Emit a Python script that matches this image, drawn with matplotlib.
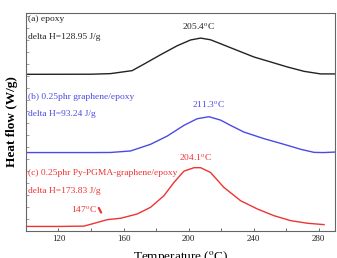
import matplotlib
matplotlib.use("Agg")
import matplotlib.pyplot as plt
from matplotlib.ticker import MultipleLocator, NullFormatter

plt.rcParams["font.family"] = ["Liberation Serif", "DejaVu Serif"]
plt.rcParams["mathtext.fontset"] = "stix"

# curves (temperature in C, heat flow in stacked arbitrary units)
temp_a = [100, 140, 152, 165.3, 172.5, 182.8, 193, 201.2, 207.4, 213.5, 219.7, 230,
          240.2, 250.5, 260.7, 271, 281.2, 290]
flow_a = [157.3, 157.4, 158.0, 161.0, 167.5, 177.0, 186.0, 191.8, 193.7, 192.0, 188.0, 181.3,
          174.7, 169.7, 164.7, 160.3, 157.7, 157.7]

temp_b = [100, 140, 152, 164.3, 176.6, 186.9, 197.1, 205.3, 212.5, 219.7, 225.8, 234,
          246.3, 258.6, 268.9, 277.1, 283, 290]
flow_b = [78.7, 78.7, 78.8, 80.3, 87.0, 95.3, 106.0, 112.7, 114.7, 111.3, 106.0, 99.3,
          92.7, 87.0, 82.0, 78.9, 78.7, 79.2]

temp_c = [100, 121.2, 135.6, 141.7, 150, 158.2, 168.4, 176.6, 184.8, 191, 197.1, 203.3,
          207.4, 213.5, 221.7, 232, 242.3, 252.5, 262.8, 273, 283.3]
flow_c = [4.5, 4.5, 4.8, 7.5, 11.3, 12.7, 17.0, 23.7, 35.3, 48.7, 60.0, 63.5,
          63.5, 58.7, 43.7, 30.3, 22.0, 15.3, 10.3, 7.7, 6.3]

black = "#222222"
blue = "#4a4ae6"
red = "#ee3333"

fig = plt.figure(figsize=(3.37, 2.58), dpi=100)
ax = fig.add_axes([0.077, 0.105, 0.917, 0.845])

ax.plot(temp_a, flow_a, color=black, lw=1.0)
ax.plot(temp_b, flow_b, color=blue, lw=1.0)
ax.plot(temp_c, flow_c, color=red, lw=1.0)

fs = 6.8
ax.text(101, 213, "(a) epoxy", color=black, fontsize=fs, va="center")
ax.text(101, 195, "delta H=128.95 J/g", color=black, fontsize=fs, va="center")
ax.text(206, 205, r"205.4$^{\mathrm{o}}$C", color=black, fontsize=fs, ha="center", va="center")

ax.text(101, 135, "(b) 0.25phr graphene/epoxy", color=blue, fontsize=fs, va="center")
ax.text(101, 117, "delta H=93.24 J/g", color=blue, fontsize=fs, va="center")
ax.text(212, 127, r"211.3$^{\mathrm{o}}$C", color=blue, fontsize=fs, ha="center", va="center")

ax.text(101, 58, "(c) 0.25phr Py-PGMA-graphene/epoxy", color=red, fontsize=fs, va="center")
ax.text(101, 40, "delta H=173.83 J/g", color=red, fontsize=fs, va="center")
ax.text(204, 73, r"204.1$^{\mathrm{o}}$C", color=red, fontsize=fs, ha="center", va="center")
ax.text(135.5, 21, r"147$^{\mathrm{o}}$C", color=red, fontsize=fs, ha="center", va="center")
ax.annotate("", xy=(147, 16), xytext=(144, 25.5),
            arrowprops=dict(arrowstyle="-", color=red, lw=1.6))

ax.set_xlim(100, 290)
ax.set_ylim(0, 219)
ax.set_xticks([120, 160, 200, 240, 280])
ax.xaxis.set_minor_locator(MultipleLocator(20))
ax.yaxis.set_major_locator(MultipleLocator(12))
ax.yaxis.set_major_formatter(NullFormatter())
ax.tick_params(axis="x", which="both", direction="in", labelsize=6.5, pad=3,
               length=2.5, width=0.6, colors="#555555", labelcolor=black)
ax.tick_params(axis="x", which="minor", length=2)
ax.tick_params(axis="y", which="both", direction="in", length=2, width=0.5, colors="#777777")

for s in ax.spines.values():
    s.set_color("#666666")
    s.set_linewidth(0.8)

ax.set_ylabel("Heat flow (W/g)", fontsize=9.5, fontweight="bold", labelpad=2)
ax.set_xlabel("Temperature ($^{\\mathrm{o}}$C)", fontsize=9.5, labelpad=4)

fig.savefig("out.png", dpi=100)
